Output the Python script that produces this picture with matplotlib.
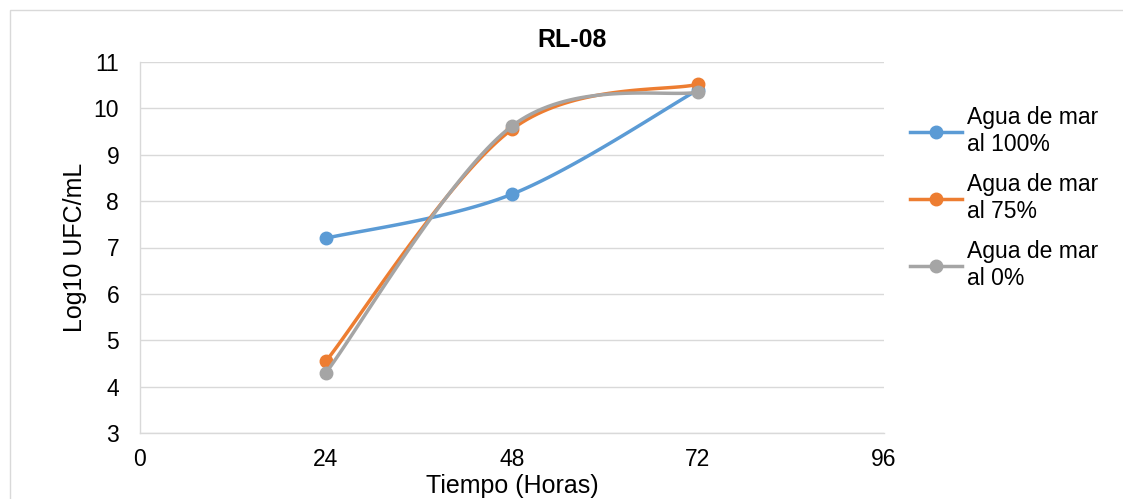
import numpy as np
import matplotlib
matplotlib.use("Agg")
from matplotlib import pyplot as plt
from matplotlib.patches import Rectangle

plt.rcParams['font.family'] = ['Liberation Sans', 'DejaVu Sans']

horas = [24, 48, 72]
mar_100 = [7.2, 8.15, 10.4]
mar_75 = [4.55, 9.55, 10.52]
mar_0 = [4.3, 9.62, 10.35]
etiquetas = ["Agua de mar\nal 100%", "Agua de mar\nal 75%", "Agua de mar\nal 0%"]
colores = ["#5b9bd5", "#ed7d31", "#a5a5a5"]
x_ticks = [0, 24, 48, 72, 96]
y_ticks = [3, 4, 5, 6, 7, 8, 9, 10, 11]


def smooth(x, y, n=40):
    # excel-like smoothed line (catmull-rom bezier)
    x = np.asarray(x, float)
    y = np.asarray(y, float)
    px = np.concatenate([[x[0]], x, [x[-1]]])
    py = np.concatenate([[y[0]], y, [y[-1]]])
    xs, ys = [], []
    t = np.linspace(0, 1, n)
    for i in range(1, len(px) - 2):
        p0 = np.array([px[i], py[i]])
        p3 = np.array([px[i + 1], py[i + 1]])
        c1 = p0 + (np.array([px[i + 1], py[i + 1]]) - np.array([px[i - 1], py[i - 1]])) / 6
        c2 = p3 - (np.array([px[i + 2], py[i + 2]]) - np.array([px[i], py[i]])) / 6
        b = ((1 - t) ** 3)[:, None] * p0 + (3 * (1 - t) ** 2 * t)[:, None] * c1 \
            + (3 * (1 - t) * t ** 2)[:, None] * c2 + (t ** 3)[:, None] * p3
        xs.extend(b[:, 0])
        ys.extend(b[:, 1])
    return xs, ys


fig = plt.figure(figsize=(11.23, 4.99), dpi=100)
fig.patches.append(Rectangle((10 / 1123, -0.1), 1.2, 0.1 + 489 / 499, transform=fig.transFigure,
                             fill=False, edgecolor="#d9d9d9", linewidth=1))
ax = fig.add_axes([140 / 1123, 1 - 433 / 499, 744 / 1123, 371 / 499])

for serie, lab, c in zip([mar_100, mar_75, mar_0], etiquetas, colores):
    sx, sy = smooth(horas, serie)
    ax.plot(sx, sy, color=c, linewidth=2.5, solid_capstyle='round')
    ax.plot(horas, serie, linestyle='none', marker='o', markersize=9, color=c)
    ax.plot([], [], color=c, linewidth=2.5, marker='o', markersize=9, label=lab)

ax.set_xlim(0, 96)
ax.set_ylim(3, 11)
ax.set_xticks(x_ticks)
ax.set_yticks(y_ticks)
ax.grid(axis='y', color="#d9d9d9", linewidth=1)
ax.set_axisbelow(True)
for s in ['top', 'right']:
    ax.spines[s].set_visible(False)
for s in ['left', 'bottom']:
    ax.spines[s].set_color("#d9d9d9")
    ax.spines[s].set_linewidth(1)
ax.tick_params(length=0, labelsize=16.5, colors="black")
ax.tick_params(axis='x', pad=11)
ax.tick_params(axis='y', pad=15)
ax.set_ylabel("Log10 UFC/mL", fontsize=18, labelpad=5)
ax.set_xlabel("Tiempo (Horas)", fontsize=18, labelpad=2)

fig.text(572 / 1123, 1 - 40 / 499, "RL-08", fontsize=18, fontweight='bold', ha='center', va='center')

ax.legend(loc='upper left', bbox_to_anchor=(1.022, 0.905), frameon=False, fontsize=16.5,
          handlelength=2.3, handletextpad=0.2, labelspacing=0.75, borderaxespad=0)

fig.savefig("out.png", dpi=100)
